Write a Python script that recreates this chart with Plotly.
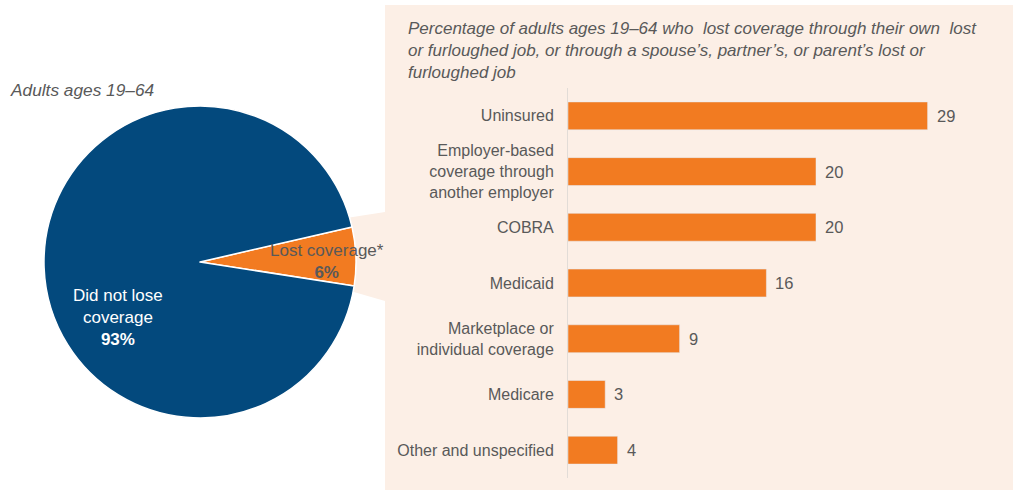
import plotly.graph_objects as go

# pie data
pie_labels = ["Lost coverage*", "Did not lose<br>coverage"]
pie_values = [6, 93]

# bar data
categories = [
    "Uninsured",
    "Employer-based<br>coverage through<br>another employer",
    "COBRA",
    "Medicaid",
    "Marketplace or<br>individual coverage",
    "Medicare",
    "Other and unspecified",
]
values = [29, 20, 20, 16, 9, 3, 4]

W, H = 1013, 491
BLUE = "#03497d"
ORANGE = "#f27b21"
PEACH = "#fcefe6"
GREY = "#595959"
FONT = "Liberation Sans, Arial, sans-serif"


def px(x, y):
    # pixel -> paper coords (margins are zero)
    return x / W, 1 - y / H


fig = go.Figure()

# --- pie ---
x0, y1 = px(44, 106)
x1, y0 = px(356, 418)
fig.add_trace(go.Pie(
    labels=pie_labels,
    values=pie_values,
    sort=False,
    direction="clockwise",
    rotation=77,
    marker=dict(colors=[ORANGE, BLUE], line=dict(color="white", width=1.5)),
    textinfo="none",
    hoverinfo="label+percent",
    showlegend=False,
    domain=dict(x=[x0, x1], y=[y0, y1]),
))

# --- bars ---
fig.add_trace(go.Bar(
    x=values,
    y=categories,
    orientation="h",
    marker=dict(color=ORANGE),
    width=0.5,
    showlegend=False,
    hovertemplate="%{y}: %{x}<extra></extra>",
))

for cat, v in zip(categories, values):
    fig.add_annotation(
        x=v, y=cat, xref="x", yref="y",
        text=str(v), showarrow=False,
        xanchor="left", xshift=7,
        font=dict(size=16.5, color=GREY, family=FONT),
    )

bx0, _ = px(568, 0)
bx1 = (568 + 34 * 12.4) / W
_, by0 = px(0, 478)
_, by1 = px(0, 88)

fig.update_xaxes(domain=[bx0, bx1], range=[0, 34], visible=False)
fig.update_yaxes(
    domain=[by0, by1],
    autorange="reversed",
    showline=True, linecolor="#e2dcd7", linewidth=1,
    showgrid=False, ticks="",
    ticklabelstandoff=10,
    tickfont=dict(size=16, color=GREY, family=FONT),
)

# --- peach panel and connector ---
shapes = []
sx0, sy1 = px(385, 5)
sx1, sy0 = px(1013, 490)
shapes.append(dict(type="rect", xref="paper", yref="paper", x0=sx0, x1=sx1,
                   y0=sy0, y1=sy1, fillcolor=PEACH, line=dict(width=0), layer="below"))
pts = [px(340, 219), px(385, 212), px(385, 301), px(340, 288)]
path = "M " + " L ".join(f"{a},{b}" for a, b in pts) + " Z"
shapes.append(dict(type="path", xref="paper", yref="paper", path=path,
                   fillcolor=PEACH, line=dict(width=0), layer="below"))

# --- text ---
annos = []
ax, ay = px(8, 90)
annos.append(dict(x=ax, y=ay, xref="paper", yref="paper", xanchor="left", yanchor="middle",
                  text="<i>Adults ages 19–64</i>", showarrow=False,
                  font=dict(size=17.3, color=GREY, family=FONT)))
tx, ty = px(406, 17)
annos.append(dict(
    x=tx, y=ty, xref="paper", yref="paper", xanchor="left", yanchor="top", align="left",
    text=("<i>Percentage of adults ages 19–64 who  lost coverage through their own  lost<br>"
          "or furloughed job, or through a spouse’s, partner’s, or parent’s lost or<br>"
          "furloughed job</i>"),
    showarrow=False, font=dict(size=17, color=GREY, family=FONT)))
lx, ly = px(327, 261)
annos.append(dict(x=lx, y=ly, xref="paper", yref="paper", xanchor="center", yanchor="middle",
                  text=f"{pie_labels[0]}<br><b>{pie_values[0]}%</b>", showarrow=False,
                  font=dict(size=17, color=GREY, family=FONT)))
dx, dy = px(118, 317)
annos.append(dict(x=dx, y=dy, xref="paper", yref="paper", xanchor="center", yanchor="middle",
                  text=f"{pie_labels[1]}<br><b>{pie_values[1]}%</b>", showarrow=False,
                  font=dict(size=17, color="white", family=FONT)))
for a in annos:
    fig.add_annotation(**a)

fig.update_layout(
    width=W, height=H,
    margin=dict(l=0, r=0, t=0, b=0),
    paper_bgcolor="white",
    plot_bgcolor="rgba(0,0,0,0)",
    shapes=shapes,
    font=dict(family=FONT, color=GREY),
    bargap=0.5,
)

# page body has a default 8px margin; drop it so the figure fills the window
fig.write_html("out.html", config={"displayModeBar": False},
               post_script="document.body.style.margin='0px';")
